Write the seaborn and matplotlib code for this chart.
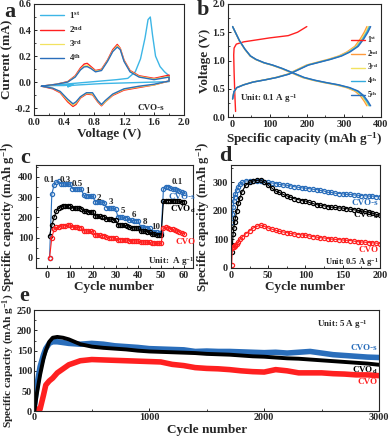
import numpy as np
import pandas as pd
import matplotlib
matplotlib.use("Agg")
import matplotlib.pyplot as plt
import seaborn as sns
from matplotlib.ticker import AutoMinorLocator

# ---------------- panel a: CV curves ----------------
cv1_v = [0.10, 0.30, 0.50, 0.70, 0.90, 1.10, 1.25, 1.35, 1.42, 1.48, 1.52, 1.55, 1.58, 1.62, 1.68, 1.74, 1.80,
         1.80, 1.50, 1.20, 0.90, 0.60, 0.48, 0.45, 0.52, 0.40, 0.25, 0.10]
cv1_i = [-0.03, -0.02, -0.01, 0.00, 0.01, 0.02, 0.03, 0.08, 0.18, 0.34, 0.48, 0.50, 0.36, 0.20, 0.12, 0.08, 0.05,
         0.005, 0.00, -0.005, -0.01, -0.02, -0.025, -0.035, -0.02, -0.025, -0.025, -0.03]

cv_v = [0.10, 0.30, 0.45, 0.55, 0.62, 0.67, 0.71, 0.76, 0.82, 0.90, 0.98, 1.05, 1.11, 1.15, 1.20, 1.28, 1.40, 1.60, 1.80,
        1.80, 1.60, 1.40, 1.20, 1.05, 0.95, 0.90, 0.85, 0.78, 0.70, 0.62, 0.56, 0.52, 0.45, 0.35, 0.25, 0.10]
cv2_i = [-0.03, -0.015, 0.005, 0.05, 0.11, 0.14, 0.145, 0.12, 0.09, 0.10, 0.17, 0.25, 0.29, 0.26, 0.17, 0.09, 0.05, 0.03, 0.055,
         0.01, -0.02, -0.04, -0.06, -0.10, -0.15, -0.18, -0.15, -0.095, -0.09, -0.12, -0.17, -0.185, -0.15, -0.08, -0.05, -0.03]
cv3_i = [-0.03, -0.015, 0.003, 0.045, 0.10, 0.125, 0.13, 0.11, 0.085, 0.095, 0.165, 0.24, 0.28, 0.255, 0.165, 0.085, 0.045, 0.025, 0.045,
         0.01, -0.02, -0.035, -0.055, -0.095, -0.15, -0.175, -0.145, -0.09, -0.085, -0.115, -0.16, -0.175, -0.14, -0.075, -0.045, -0.03]
cv4_i = [-0.03, -0.015, 0.002, 0.04, 0.095, 0.118, 0.12, 0.105, 0.08, 0.09, 0.16, 0.235, 0.27, 0.25, 0.16, 0.08, 0.04, 0.02, 0.04,
         0.01, -0.015, -0.03, -0.05, -0.09, -0.14, -0.17, -0.14, -0.08, -0.08, -0.11, -0.15, -0.165, -0.13, -0.07, -0.045, -0.03]

# ---------------- panel b: GCD curves ----------------
gcd1_cap = [8, 6, 4, 3, 4, 10, 30, 60, 100, 150, 175, 200]
gcd1_v = [0.10, 0.40, 0.80, 1.10, 1.22, 1.29, 1.33, 1.36, 1.40, 1.44, 1.50, 1.60]

dis_v = [1.60, 1.50, 1.35, 1.20, 1.08, 1.02, 0.96, 0.92, 0.86, 0.78, 0.70, 0.65, 0.61, 0.57, 0.52, 0.46, 0.38, 0.28, 0.20]
dis_frac = [0.0, 0.02, 0.05, 0.09, 0.13, 0.17, 0.23, 0.29, 0.36, 0.44, 0.52, 0.60, 0.68, 0.77, 0.85, 0.91, 0.95, 0.98, 1.0]
chg_v = [0.32, 0.45, 0.52, 0.57, 0.62, 0.66, 0.70, 0.76, 0.84, 0.92, 0.97, 1.02, 1.08, 1.15, 1.25, 1.38, 1.50, 1.60]
chg_frac = [0.0, 0.01, 0.03, 0.08, 0.15, 0.24, 0.32, 0.41, 0.48, 0.55, 0.63, 0.71, 0.79, 0.85, 0.91, 0.95, 0.98, 1.0]
gcd_caps = [362, 366, 369, 372]          # 2nd..5th end capacities
gcd_labels = ["1$^{st}$", "2$^{nd}$", "3$^{rd}$", "4$^{th}$", "5$^{th}$"]

# ---------------- panel c: rate capability ----------------
rate_cycle = list(range(1, 61))
rate_s = [0, 315, 360, 375, 378, 366, 365, 364, 364, 363,
          342, 340, 340, 339, 338, 308, 306, 305, 304, 303,
          278, 276, 275, 274, 273, 248, 246, 245, 244, 243,
          203, 201, 200, 199, 198, 186, 185, 184, 183, 182,
          152, 150, 149, 148, 147, 128, 126, 125, 124, 123,
          340, 352, 350, 346, 342, 338, 334, 330, 326, 320]
rate_d = [108, 160, 200, 230, 245, 252, 255, 256, 257, 258,
          247, 246, 245, 244, 243, 230, 229, 228, 227, 226,
          207, 206, 205, 204, 203, 192, 191, 190, 189, 188,
          163, 162, 161, 160, 159, 150, 149, 148, 147, 146,
          132, 131, 130, 129, 128, 117, 116, 115, 114, 113,
          280, 282, 283, 283, 282, 281, 280, 279, 278, 276]
rate_o = [0, 100, 140, 150, 153, 155, 157, 159, 161, 162,
          152, 151, 150, 149, 148, 133, 132, 131, 130, 129,
          113, 112, 111, 110, 109, 101, 100, 99, 98, 97,
          90, 89, 88, 88, 87, 84, 83, 83, 82, 82,
          78, 77, 77, 76, 76, 73, 72, 72, 71, 71,
          148, 152, 148, 144, 140, 136, 132, 128, 124, 120]
rate_labels = ["0.1", "0.3", "0.5", "1", "2", "3", "5", "6", "8", "10", "0.1"]
rate_lab_x = [1, 8, 13, 17.5, 22.6, 28, 33, 38, 43, 47.5, 57]
rate_lab_y = [385, 385, 365, 330, 295, 275, 230, 210, 175, 150, 375]

# ---------------- panel d: 0.5 A/g cycling ----------------
d_cycle = [1, 2, 3, 4, 5, 6, 8, 10, 12, 15, 20, 25, 30, 35, 40, 45, 50, 55, 60, 65, 70, 75, 80, 85, 90, 95, 100,
           105, 110, 115, 120, 125, 130, 135, 140, 145, 150, 155, 160, 165, 170, 175, 180, 185, 190, 195, 200]
d_s = [160, 190, 215, 235, 250, 260, 272, 285, 293, 300, 305, 306, 306, 305, 305, 303, 300, 298, 296, 293, 291, 290,
       288, 285, 283, 281, 280, 278, 276, 275, 272, 270, 265, 265, 262, 261, 260, 258, 258, 256, 255, 254, 253, 252,
       252, 250, 250]
d_d = [55, 80, 120, 140, 160, 175, 200, 228, 245, 268, 290, 300, 305, 307, 308, 300, 290, 280, 270, 265, 258, 253,
       248, 243, 240, 236, 235, 230, 226, 222, 220, 218, 215, 213, 212, 210, 210, 208, 206, 204, 202, 200, 198, 195,
       192, 188, 185]
d_o = [10, 70, 72, 75, 78, 80, 85, 92, 100, 108, 120, 130, 140, 146, 150, 146, 140, 136, 132, 128, 126, 124, 121,
       119, 117, 116, 115, 112, 110, 108, 106, 105, 103, 101, 100, 99, 98, 97, 96, 94, 92, 91, 90, 89, 88, 87, 85]

# ---------------- panel e: 5 A/g cycling ----------------
e_cycle = [0, 20, 50, 80, 100, 130, 160, 200, 250, 300, 350, 400, 500, 600, 700, 800, 900, 1000, 1100, 1200, 1300,
           1400, 1500, 1600, 1700, 1800, 1900, 2000, 2100, 2200, 2300, 2400, 2500, 2600, 2700, 2800, 2900, 3000]
e_s = [10, 60, 110, 140, 155, 168, 172, 172, 170, 168, 167, 166, 168, 166, 162, 160, 158, 155, 154, 153, 152,
       148, 149, 148, 148, 147, 146, 145, 146, 144, 146, 148, 144, 140, 138, 136, 134, 133]
e_d = [0, 40, 90, 130, 150, 172, 182, 184, 182, 178, 172, 166, 160, 157, 155, 153, 150, 148, 147, 146, 145,
       144, 142, 141, 140, 138, 136, 135, 133, 131, 130, 128, 126, 124, 122, 120, 118, 115]
e_o = [5, 5, 5, 40, 65, 75, 82, 95, 105, 115, 120, 125, 128, 127, 126, 125, 124, 123, 122, 116, 113,
       108, 106, 105, 103, 100, 98, 97, 103, 100, 95, 95, 95, 93, 92, 90, 90, 88]

BLUE = "#2A6EBB"
RED = "#FF2020"
BLACK = "#000000"
CYAN = "#3DB6E6"
ORANGE = "#FF9A3C"
YELLOW = "#F2E260"
SKY = "#33AADD"

sns.set_theme(style="ticks")
plt.rcParams["font.family"] = ["Liberation Serif", "DejaVu Serif"]
plt.rcParams["font.weight"] = "bold"
plt.rcParams["axes.labelweight"] = "bold"
plt.rcParams["mathtext.default"] = "regular"
plt.rcParams["axes.linewidth"] = 0.8
plt.rcParams["xtick.direction"] = "in"
plt.rcParams["ytick.direction"] = "in"

TICK_FS = 7.3
LAB_FS = 9.5
ANN = 6.5

fig = plt.figure(figsize=(3.9, 4.37), dpi=100)
ax_a = fig.add_axes([0.087, 0.737, 0.385, 0.254])
ax_b = fig.add_axes([0.585, 0.732, 0.392, 0.259])
ax_c = fig.add_axes([0.092, 0.387, 0.403, 0.236])
ax_d = fig.add_axes([0.592, 0.387, 0.382, 0.236])
ax_e = fig.add_axes([0.088, 0.059, 0.884, 0.231])


def style(ax, pad=2):
    ax.tick_params(labelsize=TICK_FS, length=2.5, width=0.7, pad=pad)
    ax.tick_params(which="minor", length=1.5, width=0.6)
    ax.xaxis.set_minor_locator(AutoMinorLocator(2))
    ax.yaxis.set_minor_locator(AutoMinorLocator(2))
    for t in ax.get_xticklabels() + ax.get_yticklabels():
        t.set_fontweight("bold")


def beads(color):
    # hollow circles joined by a line, edge in the series colour
    return dict(marker="o", markersize=3.0, markerfacecolor="none", markeredgecolor=color,
                markeredgewidth=0.9, lw=0.8, color=color)


# ---- a ----
sns.lineplot(x=cv1_v, y=cv1_i, ax=ax_a, sort=False, estimator=None, color=CYAN, lw=1.0, label="1$^{st}$")
sns.lineplot(x=cv_v, y=cv2_i, ax=ax_a, sort=False, estimator=None, color=RED, lw=1.0, label="2$^{nd}$")
sns.lineplot(x=cv_v, y=cv3_i, ax=ax_a, sort=False, estimator=None, color=YELLOW, lw=0.9, label="3$^{rd}$")
sns.lineplot(x=cv_v, y=cv4_i, ax=ax_a, sort=False, estimator=None, color=BLUE, lw=1.0, label="4$^{th}$")
ax_a.set_xlim(0, 2.0)
ax_a.set_ylim(-0.25, 0.6)
ax_a.set_xticks([0.0, 0.4, 0.8, 1.2, 1.6, 2.0])
ax_a.set_xticklabels(["0.0", "0.4", "0.8", "1.2", "1.6", "2.0"])
ax_a.set_yticks([-0.2, 0.0, 0.2, 0.4, 0.6])
ax_a.set_yticklabels(["-0.2", "0.0", "0.2", "0.4", "0.6"])
ax_a.set_xlabel("Voltage (V)", fontsize=LAB_FS, labelpad=1)
ax_a.set_ylabel("Current (mA)", fontsize=LAB_FS, labelpad=1)
ax_a.legend(loc="upper left", frameon=False, fontsize=6.5, handlelength=2.6, labelspacing=0.35,
            borderaxespad=0.3, handletextpad=0.6)
ax_a.text(1.74, -0.215, "CVO-s", fontsize=ANN, ha="right", fontweight="bold")
style(ax_a)

# ---- b ----
sns.lineplot(x=gcd1_cap, y=gcd1_v, ax=ax_b, sort=False, estimator=None, color=RED, lw=1.0, label=gcd_labels[0])
for cap, col, lab in zip(gcd_caps, [ORANGE, YELLOW, SKY, BLUE], gcd_labels[1:]):
    xs = [f * cap for f in dis_frac] + [f * cap for f in chg_frac]
    ys = dis_v + chg_v
    df = pd.DataFrame({"cap": xs, "v": ys})
    sns.lineplot(data=df.iloc[:len(dis_v)], x="cap", y="v", ax=ax_b, sort=False, estimator=None,
                 color=col, lw=1.0, label=lab)
    sns.lineplot(data=df.iloc[len(dis_v):], x="cap", y="v", ax=ax_b, sort=False, estimator=None,
                 color=col, lw=1.0)
ax_b.set_xlim(-12, 400)
ax_b.set_ylim(0, 2.0)
ax_b.set_xticks([0, 100, 200, 300, 400])
ax_b.set_yticks([0.0, 0.5, 1.0, 1.5, 2.0])
ax_b.set_yticklabels(["0.0", "0.5", "1.0", "1.5", "2.0"])
ax_b.set_xlabel("Specific capacity (mAh g$^{-1}$)", fontsize=LAB_FS, labelpad=1)
ax_b.set_ylabel("Voltage (V)", fontsize=LAB_FS, labelpad=1)
ax_b.legend(loc="center right", bbox_to_anchor=(1.03, 0.44), frameon=False, fontsize=5.5,
            handlelength=1.8, labelspacing=0.35, handletextpad=0.3)
ax_b.text(20, 0.28, "Unit: 0.1 A g$^{-1}$", fontsize=ANN, fontweight="bold")
style(ax_b)

# ---- c ----
sns.lineplot(x=rate_cycle, y=rate_s, ax=ax_c, **beads(BLUE))
sns.lineplot(x=rate_cycle, y=rate_d, ax=ax_c, **beads(BLACK))
sns.lineplot(x=rate_cycle, y=rate_o, ax=ax_c, **beads(RED))
for lx, ly, lt in zip(rate_lab_x, rate_lab_y, rate_labels):
    ax_c.text(lx, ly, lt, fontsize=ANN, ha="center", va="center", fontweight="bold")
ax_c.text(65, 300, "CVO-s", color=BLUE, fontsize=ANN, ha="right", va="center", fontweight="bold")
ax_c.text(65, 240, "CVO$_d$", color=BLACK, fontsize=ANN, ha="right", va="center", fontweight="bold")
ax_c.text(65, 80, "CVO", color=RED, fontsize=ANN, ha="right", va="center", fontweight="bold")
ax_c.text(64.5, -20, "Unit:  A g$^{-1}$", fontsize=ANN, ha="right", va="center", fontweight="bold")
ax_c.set_xlim(-5, 64)
ax_c.set_ylim(-50, 460)
ax_c.set_xticks([0, 10, 20, 30, 40, 50, 60])
ax_c.set_yticks([0, 100, 200, 300, 400])
ax_c.set_xlabel("Cycle number", fontsize=LAB_FS, labelpad=1)
ax_c.set_ylabel("Specific capacity (mAh g$^{-1}$)", fontsize=9.2, labelpad=0.5)
style(ax_c)

# ---- d ----
sns.lineplot(x=d_cycle, y=d_s, ax=ax_d, **beads(BLUE))
sns.lineplot(x=d_cycle, y=d_d, ax=ax_d, **beads(BLACK))
sns.lineplot(x=d_cycle, y=d_o, ax=ax_d, **beads(RED))
ax_d.text(198, 226, "CVO-s", color=BLUE, fontsize=ANN, ha="right", va="center", fontweight="bold")
ax_d.text(198, 184, "CVO$_d$", color=BLACK, fontsize=ANN, ha="right", va="center", fontweight="bold")
ax_d.text(198, 62, "CVO", color=RED, fontsize=ANN, ha="right", va="center", fontweight="bold")
ax_d.text(198, 20, "Unit: 0.5 A g$^{-1}$", fontsize=6.0, ha="right", va="center", fontweight="bold")
ax_d.set_xlim(0, 200)
ax_d.set_ylim(0, 362)
ax_d.set_xticks([0, 50, 100, 150, 200])
ax_d.set_yticks([0, 100, 200, 300])
ax_d.set_xlabel("Cycle number", fontsize=LAB_FS, labelpad=1)
ax_d.set_ylabel("Specific capacity (mAh g$^{-1}$)", fontsize=9.2, labelpad=0.5)
style(ax_d)

# ---- e ----
sns.lineplot(x=e_cycle, y=e_s, ax=ax_e, color=BLUE, lw=4.0)
sns.lineplot(x=e_cycle, y=e_o, ax=ax_e, color=RED, lw=4.0)
sns.lineplot(x=e_cycle, y=e_d, ax=ax_e, color=BLACK, lw=2.8)
ax_e.text(2985, 156, "CVO-s", color=BLUE, fontsize=ANN, ha="right", va="center", fontweight="bold")
ax_e.text(2985, 101, "CVO$_d$", color=BLACK, fontsize=ANN, ha="right", va="center", fontweight="bold")
ax_e.text(2985, 72, "CVO", color=RED, fontsize=ANN, ha="right", va="center", fontweight="bold")
ax_e.text(2900, 215, "Unit: 5 A g$^{-1}$", fontsize=ANN, ha="right", va="center", fontweight="bold")
ax_e.set_xlim(0, 3000)
ax_e.set_ylim(0, 250)
ax_e.set_xticks([0, 1000, 2000, 3000])
ax_e.set_yticks([0, 50, 100, 150, 200, 250])
ax_e.set_xlabel("Cycle number", fontsize=LAB_FS, labelpad=1)
ax_e.set_ylabel("Specific capacity (mAh g$^{-1}$)", fontsize=8.2)
ax_e.yaxis.set_label_coords(-0.049, 0.5)
style(ax_e, pad=1.5)

for lt, (px, py) in zip("abcde", [(4, 2), (197, 0), (20, 148), (219, 146), (19, 286)]):
    fig.text(px / 390, 1 - py / 437, lt, fontsize=16, fontweight="bold", va="top", ha="left")

fig.savefig("out.png", dpi=100)
